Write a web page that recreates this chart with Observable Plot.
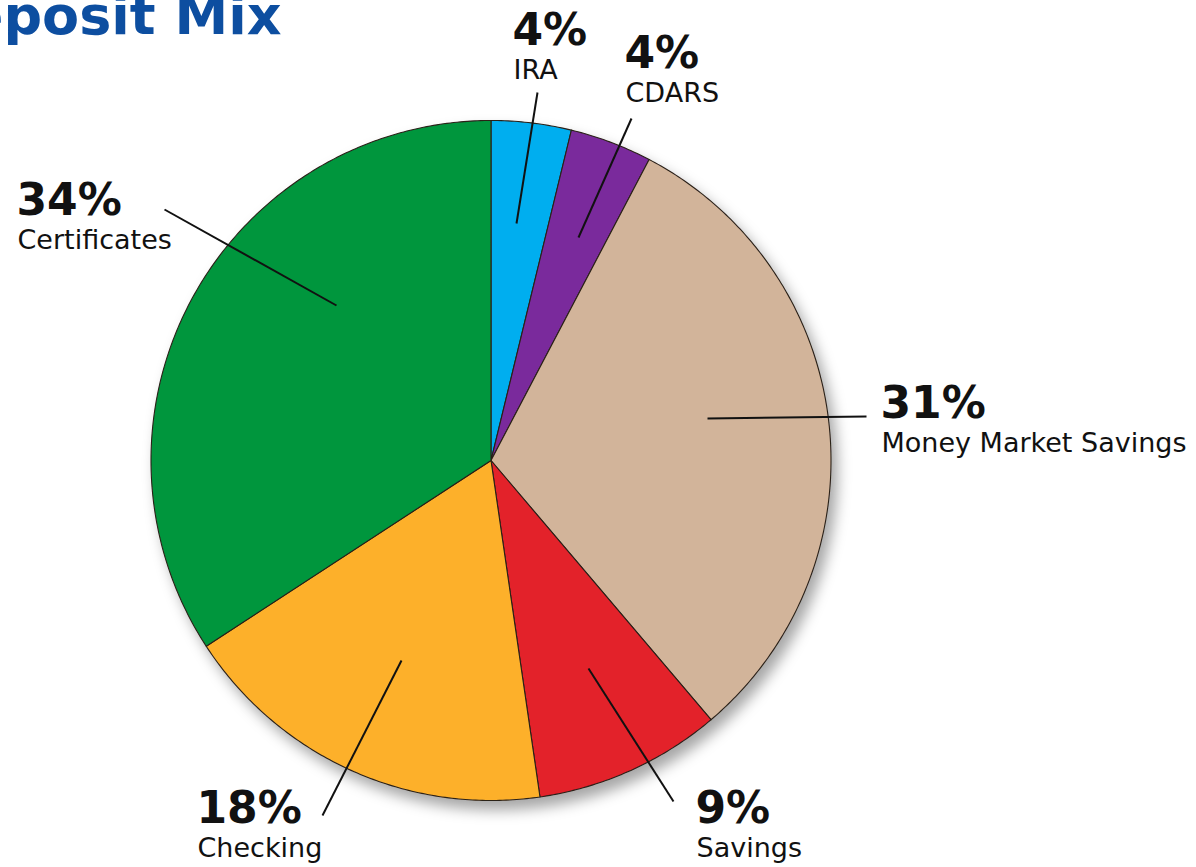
<!DOCTYPE html>
<html>
<head>
<meta charset="utf-8">
<script src="https://cdn.jsdelivr.net/npm/d3@7"></script>
<script src="https://cdn.jsdelivr.net/npm/@observablehq/plot@0.6"></script>
<style>
  html, body { margin: 0; padding: 0; background: #fff; }
  #chart svg { display: block; }
</style>
</head>
<body>
<div id="chart"></div>
<script>
// ---- data ----
const title = "Deposit Mix";
const categories = ["IRA", "CDARS", "Money Market Savings", "Savings", "Checking", "Certificates"];
const shares = [3.8, 3.9, 31.1, 8.9, 18.1, 34.2];
const percentLabels = ["4%", "4%", "31%", "9%", "18%", "34%"];
const colors = ["#00aeef", "#7a2c9c", "#d2b49a", "#e3202b", "#fdb02c", "#00963e"];

// ---- layout (pixels) ----
const W = 1196, H = 867;
const cx = 490.5, cy = 460, R = 340;
// leader lines: [inner x, inner y, outer x, outer y]
const leaders = [
  [516, 223, 537, 92],
  [578, 237, 631, 118],
  [707, 418, 866, 416],
  [588, 668, 673, 801],
  [401, 660, 322, 815],
  [336, 305, 164, 209]
];
// label anchors: [x, baseline of percent]
const labelAnchors = [
  [512, 44],
  [624, 67],
  [880, 417],
  [695, 822],
  [196, 822],
  [16, 214]
];

// ---- build slice polygons ----
const arcs = d3.pie().sort(null).value(d => d)(shares);
const slicePts = [];
arcs.forEach((a, i) => {
  const n = Math.max(8, Math.ceil((a.endAngle - a.startAngle) / 0.01));
  slicePts.push({cat: categories[i], x: cx, y: cy});
  for (let k = 0; k <= n; k++) {
    const t = a.startAngle + (a.endAngle - a.startAngle) * k / n;
    slicePts.push({cat: categories[i], x: cx + R * Math.sin(t), y: cy - R * Math.cos(t)});
  }
  slicePts.push({cat: categories[i], x: cx, y: cy});
});

const leaderRows = leaders.map((l, i) => ({cat: categories[i], x1: l[0], y1: l[1], x2: l[2], y2: l[3]}));
const pctRows = labelAnchors.map((p, i) => ({text: percentLabels[i], x: p[0], y: p[1]}));
const nameRows = labelAnchors.map((p, i) => ({text: categories[i], x: p[0] + 1, y: p[1] + 34}));

const chart = Plot.plot({
  width: W,
  height: H,
  margin: 0,
  x: {domain: [0, W], range: [0, W], axis: null},
  y: {domain: [0, H], range: [0, H], axis: null},
  color: {domain: categories, range: colors},
  style: {fontFamily: "'DejaVu Sans', 'Open Sans', sans-serif", background: "#fff"},
  marks: [
    Plot.line(slicePts, {x: "x", y: "y", z: "cat", fill: "cat", stroke: "#2a2018", strokeWidth: 1.1, strokeLinejoin: "round", curve: "linear"}),
    Plot.link(leaderRows, {x1: "x1", y1: "y1", x2: "x2", y2: "y2", stroke: "#111", strokeWidth: 2}),
    Plot.text(pctRows, {x: "x", y: "y", text: "text", textAnchor: "start", lineAnchor: "bottom", fontSize: 44, fontWeight: "bold", fill: "#111"}),
    Plot.text(nameRows, {x: "x", y: "y", text: "text", textAnchor: "start", lineAnchor: "bottom", fontSize: 27, fill: "#111"}),
    Plot.text([title], {x: () => 281, y: () => 33, text: d => d, textAnchor: "end", lineAnchor: "bottom", fontSize: 54, fontWeight: "bold", fill: "#0d4ea0"})
  ]
});

document.getElementById("chart").appendChild(chart);

// soft drop shadow under the pie
const svg = d3.select(chart);
const defs = svg.insert("defs", ":first-child");
const f = defs.append("filter").attr("id", "pieShadow").attr("x", "-20%").attr("y", "-20%").attr("width", "140%").attr("height", "140%");
f.append("feDropShadow").attr("dx", 6).attr("dy", 9).attr("stdDeviation", 7).attr("flood-color", "#000").attr("flood-opacity", 0.35);
svg.select('g[aria-label="line"]').attr("filter", "url(#pieShadow)");
</script>
</body>
</html>
